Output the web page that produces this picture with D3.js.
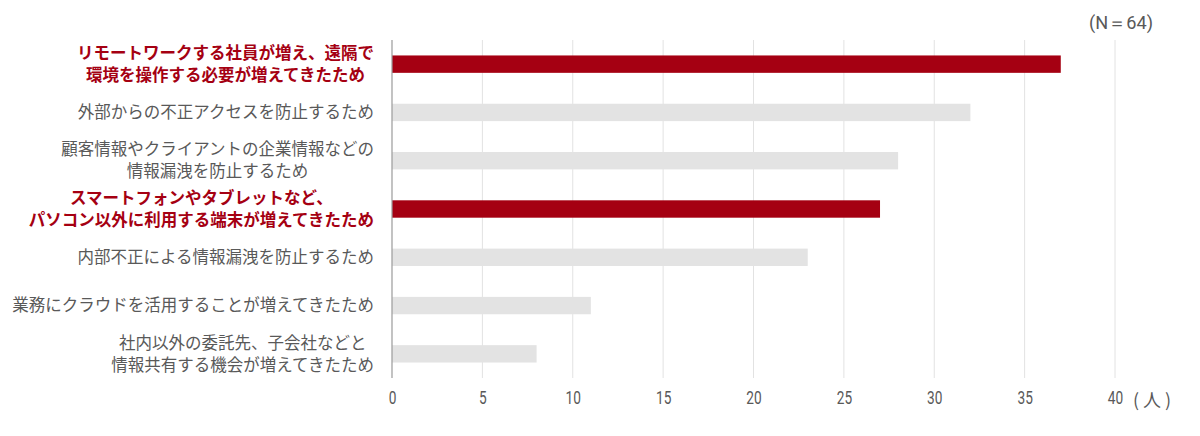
<!DOCTYPE html>
<html><head><meta charset="utf-8">
<script src="https://cdn.jsdelivr.net/npm/d3@7"></script>
<style>
body{margin:0;background:#fff;}
svg{display:block;}
</style></head>
<body>
<svg id="chart" width="1200" height="436"></svg>
<script>
const categories = [
  ["リモートワークする社員が増え、遠隔で","環境を操作する必要が増えてきたため"],
  ["外部からの不正アクセスを防止するため"],
  ["顧客情報やクライアントの企業情報などの","情報漏洩を防止するため"],
  ["スマートフォンやタブレットなど、","パソコン以外に利用する端末が増えてきたため"],
  ["内部不正による情報漏洩を防止するため"],
  ["業務にクラウドを活用することが増えてきたため"],
  ["社内以外の委託先、子会社などと","情報共有する機会が増えてきたため"]
];
const values = [37, 32, 28, 27, 23, 11, 8];
const highlighted = [true, false, false, true, false, false, false];
const ticks = [0,5,10,15,20,25,30,35,40];
const unitLabel = "(人)";
const noteLabel = "(N＝64)";

const RED = "#a50012", GRAY_BAR = "#e3e3e3", TEXT = "#595959";
const jp = "'Noto Sans CJK JP','Noto Sans',sans-serif";
const num = "'Roboto','Liberation Sans',sans-serif";

const svg = d3.select("#chart");
const x = d3.scaleLinear().domain([0,40]).range([392,1115]);
const y = d3.scaleBand().domain(d3.range(categories.length)).range([40,378]).paddingInner(0.64).paddingOuter(0.32);

// gridlines
svg.append("g").selectAll("line").data(ticks.slice(1)).join("line")
  .attr("x1", d=>x(d)).attr("x2", d=>x(d)).attr("y1", 40).attr("y2", 378)
  .attr("stroke", "#e2e2e2").attr("stroke-width", 1);

// bars
svg.append("g").selectAll("rect").data(values).join("rect")
  .attr("x", x(0)).attr("y", (d,i)=>y(i)).attr("width", d=>x(d)-x(0)).attr("height", y.bandwidth())
  .attr("fill", (d,i)=>highlighted[i]?RED:GRAY_BAR);

// axis line
svg.append("line").attr("x1", x(0)).attr("x2", x(0)).attr("y1", 40).attr("y2", 378)
  .attr("stroke", "#9a9a9a").attr("stroke-width", 1.2);

// x tick labels via axis
const ax = svg.append("g").attr("transform", "translate(0,390)")
  .call(d3.axisBottom(x).tickValues(ticks).tickSize(0).tickPadding(0));
ax.select(".domain").remove();
ax.selectAll("text").attr("font-family", num).attr("font-size", 19).attr("fill", TEXT)
  .attr("dy","0.71em").attr("transform", "scale(0.72,1)");

svg.append("text").attr("x", 1133).attr("y", 401).attr("dy","0.35em").attr("font-family", jp).attr("font-size", 18)
  .attr("letter-spacing", 4).attr("fill", TEXT).text(unitLabel);
svg.append("text").attr("x", 1089).attr("y", 23).attr("dy","0.35em").attr("font-family", num)
  .attr("font-size", 18).attr("textLength", 64).attr("lengthAdjust","spacingAndGlyphs").attr("fill", TEXT).text(noteLabel);

// category labels
const lineH = 22;
categories.forEach((lines, i) => {
  const g = svg.append("g");
  const cy = y(i) + y.bandwidth()/2;
  const t = g.append("text").attr("font-family", jp).attr("font-size", 16.5)
    .attr("font-weight", highlighted[i] ? 700 : 400)
    .attr("fill", highlighted[i] ? RED : TEXT).attr("text-anchor", "middle");
  lines.forEach((ln, k) => {
    t.append("tspan").attr("x", 0).attr("y", cy + (k - (lines.length-1)/2)*lineH).attr("dy", "0.35em").text(ln);
  });
  const bb = t.node().getBBox();
  g.attr("transform", `translate(${374 - (bb.x + bb.width)},0)`);
});
</script>
</body></html>
